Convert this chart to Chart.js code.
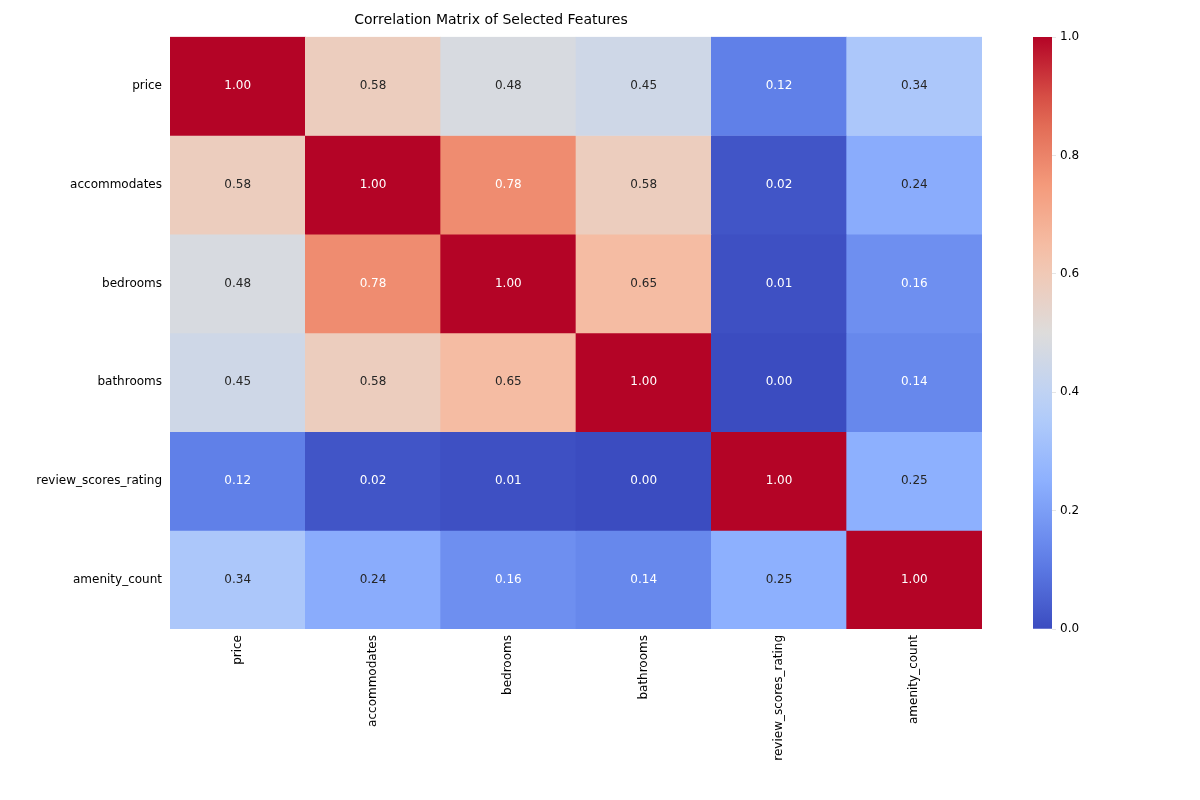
<!DOCTYPE html>
<html>
<head>
<meta charset="utf-8">
<script src="https://cdn.jsdelivr.net/npm/chart.js@4"></script>
<style>
  body { margin: 0; background: #fff; }
  #wrap { position: relative; width: 1200px; height: 800px; }
  #heat { position: absolute; left: 0; top: 0; }
  #bar { position: absolute; left: 1033px; top: 0; }
</style>
</head>
<body>
<div id="wrap">
  <canvas id="heat" width="1000" height="800"></canvas>
  <canvas id="bar" width="110" height="800"></canvas>
</div>
<script>
var features = ["price", "accommodates", "bedrooms", "bathrooms", "review_scores_rating", "amenity_count"];
var rowPrice = [1.00, 0.58, 0.48, 0.45, 0.12, 0.34];
var rowAccommodates = [0.58, 1.00, 0.78, 0.58, 0.02, 0.24];
var rowBedrooms = [0.48, 0.78, 1.00, 0.65, 0.01, 0.16];
var rowBathrooms = [0.45, 0.58, 0.65, 1.00, -0.00, 0.14];
var rowReview = [0.12, 0.02, 0.01, -0.00, 1.00, 0.25];
var rowAmenity = [0.34, 0.24, 0.16, 0.14, 0.25, 1.00];
var matrix = [rowPrice, rowAccommodates, rowBedrooms, rowBathrooms, rowReview, rowAmenity];
var colorbarTicks = [0, 0.2, 0.4, 0.6, 0.8, 1.0];

Chart.defaults.font.family = "'DejaVu Sans', sans-serif";
Chart.defaults.font.size = 12;
Chart.defaults.color = '#000';

// coolwarm approximation
var cw = [[59,76,192],[98,130,234],[141,176,254],[184,208,249],[221,220,219],[245,196,173],[244,154,123],[222,96,77],[180,4,38]];
function coolwarmRgb(v) {
    v = Math.max(0, Math.min(1, v));
    var p = v * (cw.length - 1), i = Math.min(Math.floor(p), cw.length - 2), t = p - i;
    return cw[i].map(function (c, k) { return Math.round(c + (cw[i + 1][k] - c) * t); });
}
function coolwarm(v) { var c = coolwarmRgb(v); return 'rgb(' + c.join(',') + ')'; }
function textColor(v) {
    var c = coolwarmRgb(v).map(function (x) {
        x /= 255; return x <= 0.03928 ? x / 12.92 : Math.pow((x + 0.055) / 1.055, 2.4);
    });
    var lum = 0.2126 * c[0] + 0.7152 * c[1] + 0.0722 * c[2];
    return lum > 0.408 ? '#262626' : '#fff';
}

var datasets = [];
for (var r = 0; r < matrix.length; r++) {
    datasets.push({
        label: features[r],
        data: features.map(function () { return 1; }),
        values: matrix[r],
        backgroundColor: matrix[r].map(coolwarm),
        borderWidth: 0,
        categoryPercentage: 1.0,
        barPercentage: 1.0
    });
}

var cellLabels = {
    id: 'cellLabels',
    afterDatasetsDraw: function (chart) {
        var ctx = chart.ctx;
        ctx.save();
        ctx.font = "12px 'DejaVu Sans', sans-serif";
        ctx.textAlign = 'center';
        ctx.textBaseline = 'middle';
        chart.data.datasets.forEach(function (ds, i) {
            chart.getDatasetMeta(i).data.forEach(function (el, j) {
                var v = ds.values[j];
                ctx.fillStyle = textColor(v);
                ctx.fillText(v.toFixed(2), el.x, (el.y + el.base) / 2);
            });
        });
        ctx.restore();
    }
};

new Chart(document.getElementById('heat'), {
    type: 'bar',
    data: {labels: features, datasets: datasets},
    plugins: [cellLabels],
    options: {
        responsive: false,
        animation: false,
        layout: {padding: {right: 18}},
        plugins: {
            legend: {display: false},
            tooltip: {enabled: false},
            title: {display: true, text: 'Correlation Matrix of Selected Features',
                font: {size: 14, weight: 'normal'}, padding: {top: 12, bottom: 8}}
        },
        scales: {
            x: {
                stacked: true,
                grid: {display: false, drawTicks: true, tickLength: 4},
                border: {display: false},
                ticks: {minRotation: 90, maxRotation: 90, padding: 2},
                afterFit: function (s) { s.height = 171; }
            },
            y: {
                stacked: true, min: 0, max: 6, reverse: true,
                grid: {display: false, tickLength: 4},
                border: {display: false},
                afterBuildTicks: function (s) {
                    s.ticks = [0.5, 1.5, 2.5, 3.5, 4.5, 5.5].map(function (v) { return {value: v}; });
                },
                ticks: {callback: function (v) { return features[Math.floor(v)]; }, padding: 4},
                afterFit: function (s) { s.width = 170; }
            }
        }
    }
});

new Chart(document.getElementById('bar'), {
    type: 'bar',
    data: {labels: [''], datasets: [{
        data: [1],
        borderWidth: 0,
        categoryPercentage: 1.0,
        barPercentage: 1.0,
        backgroundColor: function (context) {
            var area = context.chart.chartArea;
            if (!area) return '#ccc';
            var g = context.chart.ctx.createLinearGradient(0, area.bottom, 0, area.top);
            for (var i = 0; i <= 20; i++) g.addColorStop(i / 20, coolwarm(i / 20));
            return g;
        }
    }]},
    options: {
        responsive: false,
        animation: false,
        layout: {padding: {top: 37, bottom: 171}},
        plugins: {legend: {display: false}, tooltip: {enabled: false}},
        scales: {
            x: {display: false},
            y: {
                position: 'right', min: 0, max: 1,
                grid: {drawOnChartArea: false, tickLength: 4},
                border: {display: false},
                afterBuildTicks: function (s) {
                    s.ticks = colorbarTicks.map(function (v) { return {value: v}; });
                },
                ticks: {callback: function (v) { return v.toFixed(1); }, padding: 4},
                afterFit: function (s) { s.width = 91; }
            }
        }
    }
});
</script>
</body>
</html>
